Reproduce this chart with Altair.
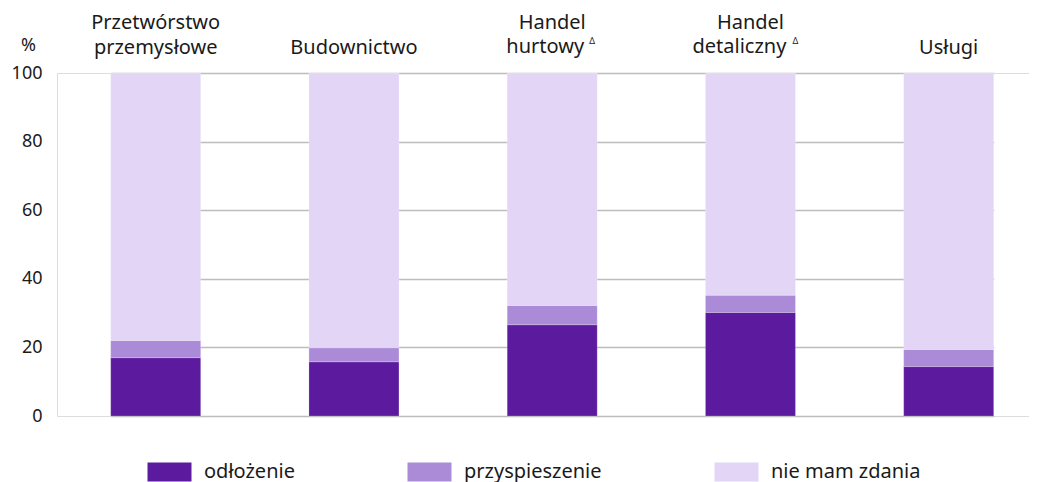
import json
import altair as alt
import pandas as pd

categories = ["Przetwórstwo przemysłowe", "Budownictwo", "Handel hurtowy", "Handel detaliczny", "Usługi"]
axis_lines = [["Przetwórstwo", "przemysłowe"], ["", "Budownictwo"], ["Handel", ""],
              ["Handel", ""], ["", "Usługi"]]
# second lines drawn separately (shifted left to leave room for the superscript mark)
extra_categories = ["Handel hurtowy", "Handel detaliczny"]
extra_lines = ["hurtowy", "detaliczny"]
extra_shift = [-7, -11]
sup_text = ["Δ", "Δ"]
sup_dx = [40, 45]

series = ["odłożenie", "przyspieszenie", "nie mam zdania"]
odlozenie = [17.0, 15.8, 26.6, 30.2, 14.4]
przyspieszenie = [5.0, 4.1, 5.6, 5.0, 5.0]
nie_mam_zdania = [78.0, 80.1, 67.8, 64.8, 80.6]
colors = ["#5c1a9f", "#ab8ad8", "#e2d5f6"]

rows = []
for i, c in enumerate(categories):
    for k, (s, vals) in enumerate(zip(series, [odlozenie, przyspieszenie, nie_mam_zdania])):
        rows.append({"kategoria": c, "seria": s, "wartosc": vals[i], "ord": k})
df = pd.DataFrame(rows)

FONT = "Noto Sans"
label_map = json.dumps(dict(zip(categories, axis_lines)), ensure_ascii=False)

x_enc = alt.X(
    "kategoria:N",
    sort=categories,
    scale=alt.Scale(domain=categories, range=[53.7, 936.7], paddingInner=0.546, paddingOuter=0),
    axis=alt.Axis(
        orient="top", title=None, domain=False, ticks=False, labelAngle=0,
        labelExpr=f"{label_map}[datum.label]",
        labelFontSize=20, labelLineHeight=25,
        labelPadding=41, labelColor="#1a1a1a", labelFont=FONT,
    ),
)

bars = alt.Chart(df).mark_bar(stroke="#ffffff", strokeWidth=0.4, strokeOpacity=0.5).encode(
    x=x_enc,
    y=alt.Y(
        "wartosc:Q",
        stack="zero",
        scale=alt.Scale(domain=[0, 100], nice=False),
        axis=alt.Axis(
            title="%", titleAngle=0, titleX=-29, titleY=-28, titleAlign="center",
            titleBaseline="middle", titleFontSize=18, titleFontWeight="normal", titleFont=FONT,
            titleColor="#1a1a1a",
            values=[0, 20, 40, 60, 80, 100], domain=False, ticks=False,
            labelPadding=15, labelFontSize=18, labelColor="#1a1a1a", labelFont=FONT,
            grid=True, gridColor="#bdbdbd", gridWidth=1.5,
        ),
    ),
    color=alt.Color(
        "seria:N",
        scale=alt.Scale(domain=series, range=colors),
        legend=alt.Legend(
            title=None, orient="none", legendX=90, legendY=389, direction="horizontal",
            columns=3, columnPadding=112,
            symbolType="M-1,-1H3.63V1H-1Z", symbolSize=361, symbolStrokeWidth=0,
            symbolOpacity=1, labelOffset=37, labelFontSize=20, labelFont=FONT,
            labelColor="#1a1a1a", padding=0,
        ),
    ),
    order=alt.Order("ord:Q", sort="ascending"),
)

layers = [bars]
for cat, line, sh, txt, d in zip(extra_categories, extra_lines, extra_shift, sup_text, sup_dx):
    sub = pd.DataFrame({"kategoria": [cat], "linia": [line], "znak": [txt], "y": [100]})
    layers.append(
        alt.Chart(sub).mark_text(
            fontSize=20, font=FONT, color="#1a1a1a", baseline="middle", dx=sh, dy=-26
        ).encode(x=alt.X("kategoria:N", sort=categories), y=alt.Y("y:Q"), text="linia:N")
    )
    layers.append(
        alt.Chart(sub).mark_text(
            fontSize=9, font=FONT, color="#1a1a1a", baseline="middle", dx=d, dy=-32
        ).encode(x=alt.X("kategoria:N", sort=categories), y=alt.Y("y:Q"), text="znak:N")
    )

chart = alt.layer(*layers).properties(
    width=972, height=343,
    autosize=alt.AutoSizeParams(type="none"),
    padding={"left": 49, "top": 65, "right": 0, "bottom": 75},
).configure_view(stroke=None).configure(font=FONT)

chart.save("out.html", embed_options={"renderer": "svg", "actions": False})
